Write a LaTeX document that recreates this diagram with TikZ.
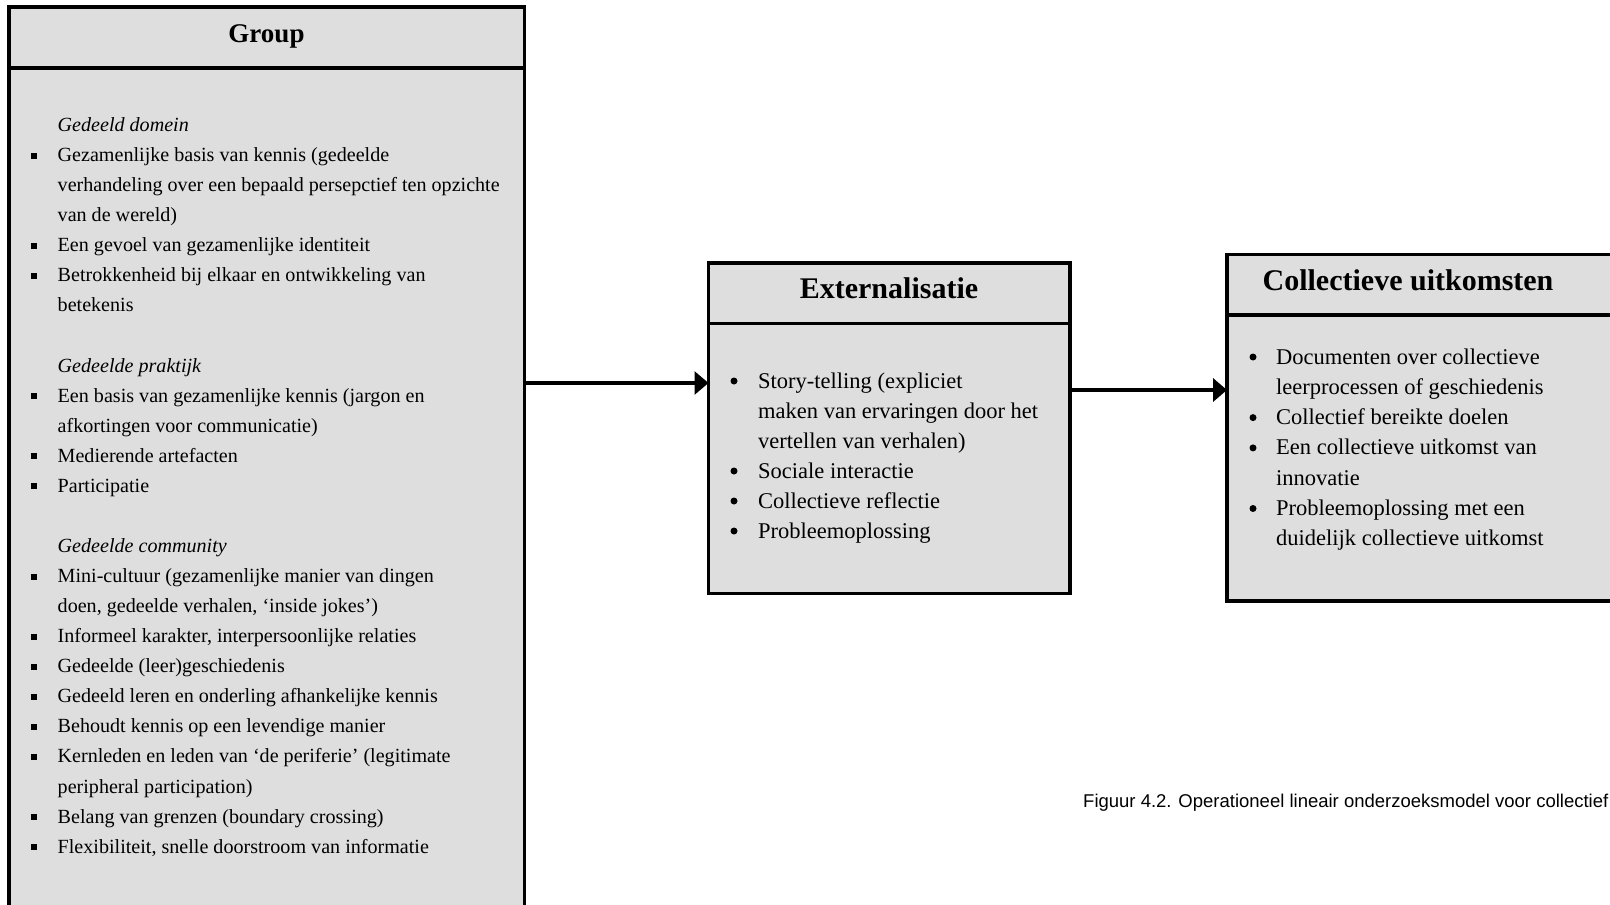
\documentclass[tikz,border=0pt]{standalone}
\usepackage{fontspec}
\setmainfont{Liberation Serif}
\newfontfamily\capfont{Liberation Sans}
\usetikzlibrary{arrows.meta}

\definecolor{boxgray}{HTML}{DEDEDE}

\tikzset{
  panel/.style={draw=black, line width=3.5pt, fill=boxgray, anchor=north west,
    inner sep=0pt, outer sep=0pt},
  headtext/.style={font=\fontsize{30}{36}\selectfont\bfseries, inner sep=0pt},
  itemtext/.style={anchor=base west, inner sep=0pt, font=\fontsize{20.1}{24}\selectfont},
  bigitem/.style={itemtext, font=\fontsize{22.5}{27}\selectfont},
  subhead/.style={itemtext, font=\fontsize{20.1}{24}\selectfont\itshape},
  sqbullet/.style={rectangle, fill=black, minimum size=6pt, inner sep=0pt},
  dotbullet/.style={circle, fill=black, minimum size=7pt, inner sep=0pt},
  flow/.style={line width=3.1pt, -{Triangle[length=14pt,width=23pt]}},
}

\begin{document}
\begin{tikzpicture}[x=1pt, y=-1pt]
  \useasboundingbox (0,0) rectangle (1610,905);
  \fill[white] (0,0) rectangle (1610,905);
  \clip (0,0) rectangle (1610,905);

  % Group
  \node[panel, minimum width=515.5pt, minimum height=60.6pt] (grouphead) at (9.2,7.2) {};
  \node[headtext, font=\fontsize{27}{32}\selectfont\bfseries] (grouptitle) at (266.5,36) {Group};
  \node[panel, minimum width=515.5pt, minimum height=900pt] (groupbody) at (grouphead.south west) {};

  \foreach \k/\txt in {0/Gedeeld domein, 8/Gedeelde praktijk, 14/Gedeelde community}
    \node[subhead] (gsub\k) at (57.5,{131.5+30.07*\k}) {\txt};

  \foreach \k/\txt in {
      1/{Gezamenlijke basis van kennis (gedeelde},
      2/{verhandeling over een bepaald persepctief ten opzichte},
      3/{van de wereld)},
      4/{Een gevoel van gezamenlijke identiteit},
      5/{Betrokkenheid bij elkaar en ontwikkeling van},
      6/{betekenis},
      9/{Een basis van gezamenlijke kennis (jargon en},
      10/{afkortingen voor communicatie)},
      11/{Medierende artefacten},
      12/{Participatie},
      15/{Mini-cultuur (gezamenlijke manier van dingen},
      16/{doen, gedeelde verhalen, ‘inside jokes’)},
      17/{Informeel karakter, interpersoonlijke relaties},
      18/{Gedeelde (leer)geschiedenis},
      19/{Gedeeld leren en onderling afhankelijke kennis},
      20/{Behoudt kennis op een levendige manier},
      21/{Kernleden en leden van ‘de periferie’ (legitimate},
      22/{peripheral participation)},
      23/{Belang van grenzen (boundary crossing)},
      24/{Flexibiliteit, snelle doorstroom van informatie}}
    \node[itemtext] (gline\k) at (57.5,{131.5+30.07*\k}) {\txt};

  \foreach \k in {1,4,5,9,11,12,15,17,18,19,20,21,23,24}
    \node[sqbullet] (gbul\k) at (34,{125.5+30.07*\k}) {};

  % Externalisatie
  \node[panel, minimum width=361.5pt, minimum height=60.5pt] (exthead) at (708.5,263) {};
  \node[headtext] (exttitle) at (889,288) {Externalisatie};
  \node[panel, minimum width=361.5pt, minimum height=270pt] (extbody) at (exthead.south west) {};

  \foreach \k/\txt in {
      0/{Story-telling (expliciet},
      1/{maken van ervaringen door het},
      2/{vertellen van verhalen)},
      3/{Sociale interactie},
      4/{Collectieve reflectie},
      5/{Probleemoplossing}}
    \node[bigitem] (eline\k) at (758,{388+30*\k}) {\txt};

  \foreach \k in {0,3,4,5}
    \node[dotbullet] (ebul\k) at (734,{381+30*\k}) {};

  % Collectieve uitkomsten
  \node[panel, minimum width=480pt, minimum height=60.5pt] (collhead) at (1227,254.5) {};
  \node[headtext] (colltitle) at (1408,280) {Collectieve uitkomsten};
  \node[panel, minimum width=480pt, minimum height=286pt] (collbody) at (collhead.south west) {};

  \foreach \k/\txt in {
      0/{Documenten over collectieve},
      1/{leerprocessen of geschiedenis},
      2/{Collectief bereikte doelen},
      3/{Een collectieve uitkomst van},
      4/{innovatie},
      5/{Probleemoplossing met een},
      6/{duidelijk collectieve uitkomst}}
    \node[bigitem] (cline\k) at (1276,{364+30.3*\k}) {\txt};

  \foreach \k in {0,2,3,5}
    \node[dotbullet] (cbul\k) at (1253,{357+30.3*\k}) {};

  % pijlen
  \coordinate (lvlone) at (0,383);
  \coordinate (lvltwo) at (0,390);
  \draw[flow] (lvlone -| groupbody.east) -- (lvlone -| extbody.west);
  \draw[flow, line width=3.5pt] (lvltwo -| extbody.east) -- (lvltwo -| collbody.west);

  \node[anchor=base west, inner sep=0pt, font=\capfont\fontsize{18.5}{22}\selectfont]
    (caption) at (1083,807) {Figuur 4.2. Operationeel lineair onderzoeksmodel voor collectief};
\end{tikzpicture}
\end{document}
